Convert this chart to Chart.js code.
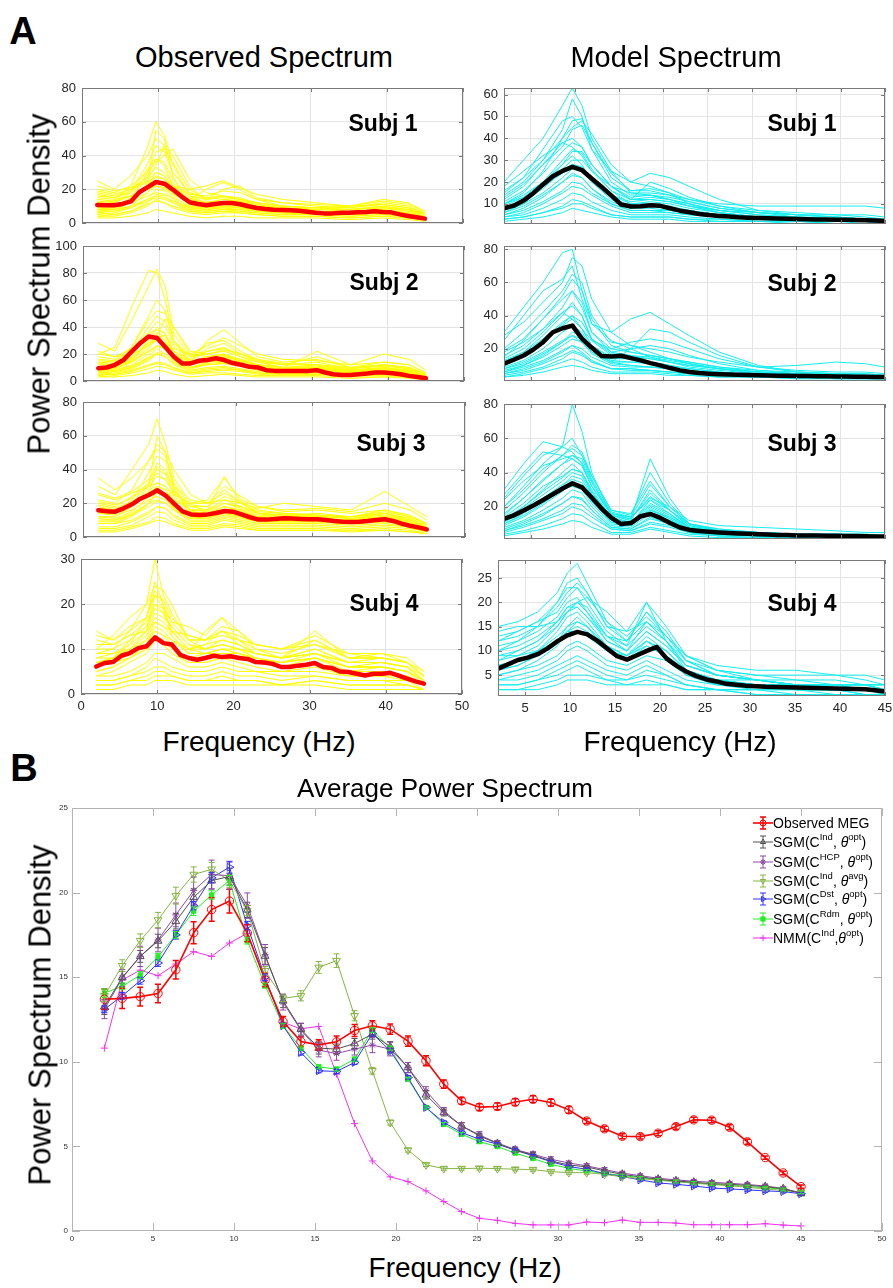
<!DOCTYPE html>
<html><head><meta charset="utf-8">
<script src="https://cdn.jsdelivr.net/npm/chart.js@4/dist/chart.umd.min.js"></script>
<style>
html,body{margin:0;padding:0;background:#fff;}
#page{position:relative;width:893px;height:1288px;overflow:hidden;font-family:"Liberation Sans",Arial,Helvetica,sans-serif;color:#000;background:#fff;}
#page canvas{position:absolute;}
.t{position:absolute;white-space:nowrap;line-height:1;transform:translate(-50%,-50%);}
.v{transform:translate(-50%,-50%) rotate(-90deg);}
.leg{position:absolute;white-space:nowrap;font-size:14px;line-height:1;transform:translateY(-50%);}
.leg sup{font-size:9.5px;line-height:0;position:relative;top:-1px;}
</style></head><body><div id="page"></div>
<script>
// ---------------- DATA ----------------
const FREQ = [2.00,3.10,4.21,5.31,6.41,7.51,8.62,9.72,10.82,11.92,13.03,14.13,15.23,16.33,17.44,18.54,19.64,20.74,21.85,22.95,24.05,25.15,26.26,27.36,28.46,29.56,30.67,31.77,32.87,33.97,35.08,36.18,37.28,38.38,39.49,40.59,41.69,42.79,43.90,45.00];
const THIN_F = [2,4.2,6.4,8.6,9.7,10.8,11.9,14.1,16.3,18.5,20.7,22.9,26.3,30.7,35.1,39.5,42.8,45];

const obsMean1 = [10.7,10.5,10.5,11.3,12.8,18.2,21.3,24.3,23.3,19.8,15.8,12.3,11.3,10.5,11.3,11.9,11.9,11.1,9.9,8.9,8.3,7.9,7.7,7.5,7.3,6.7,6.1,5.7,5.7,6.1,6.1,6.3,6.5,6.9,6.5,6.3,5.1,4.2,3.4,2.6];
const obsMean2 = [9.5,10,12,15.5,22,28,33,31.8,25,18,13,13,15,15.5,16.8,15.5,13.3,12,10.5,10,8,7.5,7.5,7.5,7.5,7.5,8,6.3,5,4.5,4.5,5,5.5,6.3,6.3,5.8,5,3.8,3,2];
const obsMean3 = [15.8,15.2,15,17,19.4,22.7,24.9,27.7,24.5,19.8,15.2,13.4,13,13.4,14.2,15.4,15,13.4,11.7,10.3,10.3,10.7,11.1,10.9,10.7,10.5,10.5,10.1,9.5,9.1,8.9,9.1,9.5,10.1,10.5,9.5,7.9,6.7,5.7,4.5];
const obsMean4 = [6.1,6.9,7.1,8.5,9.1,10.2,10.6,12.6,11.3,11.0,8.7,8.0,7.6,8.0,8.5,8.2,8.4,8.0,7.8,7.1,7.0,6.7,6.0,6.0,6.3,6.5,6.9,6.0,5.8,5.0,4.9,4.5,4.1,4.5,4.5,4.7,4.1,3.4,2.8,2.3];

const modMean1 = [8,9.2,11.5,14.9,18.9,22.6,25.1,26.9,25.4,21.5,17.7,13.8,9.7,8.8,8.9,9.4,9.1,8,6.9,6.2,5.4,4.9,4.5,4.2,3.9,3.7,3.5,3.4,3.3,3.2,3.1,3.0,2.9,2.85,2.8,2.7,2.6,2.5,2.4,2.2];
const modMean2 = [11,13.4,16,19.6,24,30,32.4,34,26,20.6,15.6,15.4,15.8,14.4,13,11.4,10,8.4,7,6,5.4,5.0,4.7,4.5,4.3,4.15,4.0,3.9,3.8,3.7,3.6,3.55,3.5,3.4,3.35,3.3,3.2,3.1,3.05,3.0];
const modMean3 = [12.9,15,17.8,20.8,24,27.3,30.7,33.7,31.3,25.3,18.8,13.5,9.9,10.5,14.5,15.8,13.5,10.5,7.9,6.5,5.9,5.4,5.0,4.7,4.4,4.2,4.0,3.8,3.6,3.5,3.3,3.25,3.2,3.1,3.05,2.95,2.9,2.8,2.7,2.6];
const modMean4 = [6.3,7.2,8.1,8.6,9.3,10.5,12,13.2,13.9,13.4,12.1,10.5,8.9,8.2,9.1,10,10.8,8.4,6.9,5.7,4.8,4.1,3.7,3.2,3.0,2.8,2.7,2.6,2.55,2.5,2.45,2.4,2.35,2.3,2.25,2.2,2.15,2.1,1.9,1.6];

const obsLines1 = [
 [14,13,22,45,60,52,35,16,12,14,13,10,9,8,8,9,7,5],
 [25,20,28,40,50,46,30,18,15,16,14,12,10,9,8,10,8,6],
 [8,9,15,30,42,44,36,20,14,20,22,15,12,10,9,12,10,6],
 [18,16,20,27,33,30,24,15,12,12,13,10,8,7,6,8,6,4],
 [6,7,10,18,24,22,16,9,8,9,8,7,6,5,5,6,5,3],
 [12,11,14,22,28,26,20,12,10,12,11,9,8,7,6,7,5,3],
 [4,4,6,10,14,12,9,6,5,6,6,5,4,4,3,4,3,2],
 [10,12,18,32,38,34,22,14,20,24,20,14,10,9,10,14,12,7],
 [20,18,22,30,36,40,44,26,18,16,14,11,9,8,8,9,7,5],
 [3,3,4,6,8,7,6,4,3,4,4,3,3,3,2,3,2,1],
 [15,14,16,20,22,20,17,12,11,12,12,10,9,8,7,8,6,4],
 [9,8,12,24,55,50,28,10,8,10,9,7,6,5,5,6,5,3],
 [7,8,12,16,18,17,15,10,9,10,9,8,7,6,6,7,6,4],
 [22,19,21,25,30,28,22,20,22,25,21,17,14,12,10,11,9,6],
 [5,6,9,14,20,19,14,8,7,8,7,6,5,5,4,5,4,2],
 [11,10,13,18,22,21,18,11,9,10,10,8,7,6,6,6,5,3],
 [16,15,18,28,38,36,26,16,14,15,14,12,10,9,9,11,9,5],
 [8,8,10,14,16,15,13,9,8,9,9,8,7,7,6,7,5,3],
 [13,12,16,26,34,46,40,22,13,12,11,9,8,7,6,7,6,4],
 [6,5,7,11,13,12,10,7,6,7,7,6,5,5,4,5,4,2],
 [19,17,20,24,27,26,22,17,16,19,18,14,12,11,10,13,11,7],
 [9,9,13,22,30,28,21,12,10,11,10,8,7,6,5,6,5,3],
 [4,5,7,12,17,16,12,7,6,7,6,5,4,4,3,4,3,2],
 [12,13,16,21,25,24,20,14,12,14,13,11,9,8,8,10,8,5],
 [7,7,9,13,15,14,12,8,7,8,8,7,6,6,5,6,5,3],
 [17,15,19,35,46,42,30,18,14,16,15,12,10,9,8,9,8,5]
];
const obsLines2 = [
 [20,25,55,82,80,60,30,15,22,25,18,12,10,12,8,10,8,4],
 [28,22,45,70,83,70,35,18,28,30,22,16,12,18,10,12,10,5],
 [10,12,25,48,60,52,30,14,18,20,14,10,9,10,7,8,6,3],
 [8,9,15,30,40,35,20,10,14,15,12,9,8,8,6,7,6,3],
 [15,14,20,35,38,35,22,16,24,28,20,14,10,11,8,10,8,4],
 [5,6,9,15,20,18,12,7,9,10,8,6,5,5,4,5,4,2],
 [12,12,18,28,30,28,20,14,30,38,28,18,14,16,10,14,12,6],
 [3,3,4,6,8,7,5,3,4,5,4,3,3,3,2,3,2,1],
 [18,16,25,45,52,50,40,22,20,22,18,14,12,14,9,12,9,5],
 [6,7,10,18,24,20,14,9,12,13,11,8,7,7,5,6,5,2],
 [10,9,14,22,26,24,18,12,16,18,15,12,10,22,12,20,16,8],
 [22,18,20,26,30,28,24,20,26,32,26,20,16,15,12,14,12,6],
 [4,5,8,12,14,13,10,6,8,9,8,6,5,6,4,5,4,2],
 [7,8,12,20,26,24,16,10,13,14,12,9,8,8,6,7,6,3],
 [13,12,17,30,36,32,22,14,18,20,16,12,10,10,8,9,7,4],
 [9,10,14,24,32,34,26,14,15,17,14,11,9,9,7,8,7,3],
 [5,5,7,11,13,12,9,6,7,8,7,5,5,5,4,4,3,2],
 [16,15,22,40,48,44,30,18,22,24,20,15,12,12,9,11,9,5],
 [11,11,15,22,26,24,18,12,16,18,15,12,10,10,8,9,8,4],
 [6,7,10,16,20,18,13,8,10,11,9,7,6,6,5,6,5,2],
 [20,18,24,36,44,40,28,18,20,23,20,16,13,12,10,12,10,5],
 [8,8,11,17,21,20,15,10,12,13,11,9,8,9,6,7,6,3],
 [14,13,18,28,34,46,40,20,18,19,16,12,10,10,8,9,7,4],
 [3,4,6,9,11,10,8,5,6,6,5,4,4,4,3,3,3,1],
 [10,11,16,26,34,30,20,12,15,16,13,10,9,9,7,8,7,3]
];
const obsLines3 = [
 [30,25,40,55,70,55,35,20,22,35,22,18,15,16,14,16,12,8],
 [35,28,35,45,55,50,40,25,20,30,24,18,16,17,15,20,16,10],
 [15,14,22,38,48,45,30,15,14,18,16,12,12,13,11,14,10,6],
 [20,18,24,32,38,34,26,18,18,28,20,14,13,12,11,12,9,5],
 [8,8,12,20,28,24,16,9,9,12,10,8,8,8,7,8,6,3],
 [25,22,26,30,32,30,25,20,20,22,20,17,20,18,16,27,18,12],
 [5,5,7,12,15,14,10,6,6,8,7,5,5,5,4,5,4,2],
 [12,12,18,30,60,50,30,12,11,15,12,9,9,9,8,10,7,4],
 [18,16,20,25,28,26,22,16,16,36,20,14,12,11,10,12,10,6],
 [10,10,14,20,22,20,16,11,12,14,12,10,10,11,9,11,8,4],
 [3,3,5,8,10,9,7,4,4,6,5,4,4,4,3,4,3,2],
 [22,20,28,45,52,48,32,18,16,20,18,14,13,12,12,14,11,7],
 [14,13,16,22,24,22,18,14,14,18,15,12,11,11,10,12,9,5],
 [9,9,13,20,26,24,17,10,10,13,11,9,9,9,8,9,7,4],
 [17,16,20,27,32,30,24,16,15,20,17,13,12,12,11,13,10,6],
 [12,11,15,24,30,28,20,12,12,16,13,10,10,10,9,11,8,5],
 [6,6,9,14,18,17,12,7,7,10,8,6,6,6,5,6,5,3],
 [21,19,23,30,36,34,27,19,18,24,20,15,14,13,12,14,11,7],
 [14,14,18,26,42,38,24,14,13,16,14,11,11,11,10,12,9,5],
 [8,8,10,15,18,17,13,8,8,11,9,7,7,7,6,7,6,3],
 [26,23,27,34,40,37,30,22,20,26,21,16,14,13,12,15,12,8],
 [11,10,13,18,21,20,16,11,11,14,12,9,9,9,8,9,7,4],
 [4,4,6,9,12,11,8,5,5,7,6,4,4,4,4,4,3,2],
 [16,15,20,32,44,40,28,15,14,18,16,12,11,11,10,12,9,5],
 [19,17,21,26,30,28,22,16,16,22,18,14,13,14,12,16,13,8]
];
const obsLines4 = [
 [10,13,17,20,30,22,18,12,12,15,14,10,8,14,8,9,7,4],
 [14,12,15,17,23,20,16,15,13,17,14,11,10,11,9,9,8,5],
 [6,8,12,15,20,18,14,10,11,12,11,9,8,10,7,7,6,3],
 [4,5,7,9,12,11,9,7,7,8,7,6,5,6,4,4,4,2],
 [8,9,10,12,14,13,12,10,10,11,10,9,8,9,7,7,6,4],
 [2,2,3,4,5,5,4,3,3,4,3,3,2,3,2,2,2,1],
 [7,8,11,17,25,20,13,9,14,17,12,9,8,12,8,8,7,4],
 [5,6,8,10,13,12,10,8,9,9,9,8,7,8,6,6,5,2],
 [12,11,13,14,16,15,14,13,12,13,12,11,10,13,9,8,7,5],
 [3,3,4,6,8,7,6,5,5,6,5,5,4,4,3,3,3,1],
 [9,10,14,20,24,23,20,12,10,11,10,8,7,8,6,6,5,3],
 [1,1,2,2,3,3,3,2,2,2,2,2,2,2,1,1,1,1],
 [6,7,9,11,15,14,12,9,9,10,10,8,7,8,6,7,6,3],
 [5,6,8,10,12,11,9,7,7,8,8,7,6,7,5,5,4,2],
 [7,7,9,12,16,15,13,9,9,10,9,8,7,9,6,6,5,3],
 [9,9,11,14,18,17,15,11,10,12,11,9,8,9,7,7,6,3],
 [4,4,5,7,9,9,8,6,6,7,6,5,5,5,4,4,3,2],
 [11,11,13,16,20,19,16,12,12,14,12,10,9,11,8,8,7,4],
 [6,7,8,11,14,13,11,8,8,9,9,7,6,8,5,6,5,3],
 [8,8,10,13,17,16,14,10,11,14,11,9,8,10,7,7,6,3],
 [3,3,4,5,6,6,5,4,4,5,4,4,3,4,3,3,2,1],
 [13,12,14,17,22,21,17,13,12,14,13,11,10,12,8,8,7,4],
 [10,10,12,15,19,18,15,11,10,11,10,9,8,9,7,8,7,4],
 [2,2,3,3,4,4,4,3,3,3,3,3,2,3,2,2,2,1],
 [7,8,10,14,22,19,14,10,9,10,9,8,7,8,6,6,5,3]
];
const modLines1 = [
 [20,30,40,55,63,55,40,25,20,18,15,10,6,4,3,3,3,2],
 [15,22,35,48,50,45,35,25,15,14,12,9,6,4,3,3,2,2],
 [10,15,25,40,45,48,42,28,20,24,22,18,12,7,5,4,3,3],
 [8,12,20,30,35,33,26,16,10,10,9,7,5,4,3,2,2,2],
 [5,8,13,20,24,22,17,10,7,7,6,5,4,3,2,2,2,1],
 [3,4,6,9,12,11,9,5,4,4,4,3,2,2,2,1,1,1],
 [12,18,28,38,40,36,28,18,12,13,12,10,7,5,4,4,3,2],
 [6,10,18,28,32,28,20,12,8,8,7,6,4,3,2,2,2,1],
 [18,25,32,38,36,32,25,18,15,15,14,12,10,9,9,9,9,8],
 [2,3,4,6,8,7,6,4,3,3,3,2,2,2,1,1,1,1],
 [10,14,20,26,30,30,25,16,12,20,17,13,9,6,4,3,3,2],
 [4,6,10,15,18,17,14,9,6,6,6,5,4,3,3,2,2,1],
 [14,20,30,44,58,50,35,20,14,14,12,10,7,5,4,3,3,2],
 [7,10,15,22,26,25,20,13,9,9,8,7,5,4,3,2,2,1],
 [9,13,20,28,34,34,28,18,12,12,11,9,6,4,3,3,2,2],
 [5,7,11,16,20,19,15,10,7,7,7,6,4,3,2,2,2,1],
 [11,16,24,34,38,36,28,18,13,14,13,11,8,6,5,4,3,2],
 [4,5,8,12,15,14,11,7,5,5,5,4,3,2,2,2,1,1],
 [13,19,28,36,44,46,38,24,16,16,14,11,8,6,5,4,3,3],
 [6,9,14,20,23,22,17,11,8,9,8,7,5,4,3,3,2,2],
 [16,22,30,40,48,49,38,22,16,17,15,12,9,7,6,5,4,3],
 [3,4,6,8,10,10,8,5,4,4,4,3,3,2,2,1,1,1],
 [8,11,17,25,28,27,22,14,10,11,10,8,6,4,3,3,2,2],
 [10,13,18,24,28,26,21,14,11,12,11,9,7,6,5,5,5,4]
];
const modLines2 = [
 [30,45,60,78,80,55,35,25,20,15,12,9,7,5,4,4,4,3],
 [25,40,55,62,70,50,35,30,38,42,35,28,18,10,6,5,5,4],
 [15,25,38,50,55,45,30,20,18,16,14,12,9,6,5,4,4,3],
 [10,15,25,35,40,32,22,15,14,12,10,8,6,4,3,3,3,3],
 [5,8,12,18,22,18,13,8,8,7,6,5,4,3,3,2,2,2],
 [20,30,42,55,65,60,40,24,22,20,18,15,12,9,10,12,11,9],
 [8,12,18,25,28,24,18,12,20,32,30,24,16,9,6,5,4,3],
 [3,4,6,9,10,9,7,5,5,5,4,4,3,3,2,2,2,2],
 [12,18,28,40,48,40,25,16,15,14,12,10,8,6,5,4,4,3],
 [6,10,16,24,30,28,20,12,10,9,8,7,5,4,3,3,3,2],
 [18,24,32,42,38,32,25,20,24,26,24,20,14,9,7,6,6,5],
 [4,6,9,14,18,16,12,8,7,7,6,5,4,3,3,2,2,2],
 [28,36,48,60,75,70,50,30,22,18,14,11,8,6,5,4,4,3],
 [9,13,20,30,34,30,20,13,12,11,9,8,6,4,3,3,3,2],
 [7,10,15,22,26,24,17,11,10,9,8,6,5,4,3,3,2,2],
 [14,20,30,42,46,40,26,17,16,15,13,11,8,6,4,4,3,3],
 [11,16,24,34,38,32,22,14,14,16,14,11,8,5,4,4,3,3],
 [5,7,11,16,19,17,12,8,8,7,6,5,4,3,3,2,2,2],
 [16,22,32,45,55,48,30,18,16,14,12,10,8,6,5,4,4,3],
 [8,11,17,24,28,26,18,12,12,12,10,8,6,4,4,3,3,2],
 [13,18,26,36,40,36,26,18,20,22,20,16,11,7,5,5,4,3],
 [3,5,8,12,14,12,9,6,6,6,5,4,3,3,2,2,2,2],
 [19,26,38,52,62,55,38,22,18,16,14,12,9,7,6,5,5,4],
 [6,9,13,19,22,20,15,10,9,9,8,6,5,4,3,3,3,2]
];
const modLines3 = [
 [30,45,58,55,60,50,38,18,15,40,22,10,6,4,4,3,3,3],
 [25,38,50,55,80,64,40,15,12,30,18,8,5,4,3,3,3,2],
 [15,25,35,45,50,48,35,15,12,48,25,10,6,4,3,3,3,3],
 [10,16,24,32,38,36,26,12,10,20,14,7,5,4,3,3,2,2],
 [6,10,15,22,26,24,18,8,7,14,10,5,4,3,2,2,2,2],
 [20,32,45,55,52,45,32,16,14,25,20,12,9,8,7,6,5,5],
 [3,5,7,10,12,11,8,4,4,7,5,3,2,2,2,1,1,1],
 [12,20,30,40,45,40,28,14,11,22,16,8,5,4,3,3,3,2],
 [8,12,18,25,30,28,20,9,8,16,12,6,4,3,3,2,2,2],
 [18,28,40,50,56,52,38,18,16,35,20,10,7,5,4,4,3,3],
 [5,8,12,16,20,18,14,7,6,10,8,5,3,3,2,2,2,2],
 [14,22,32,38,42,40,30,14,10,18,14,8,6,5,4,3,3,3],
 [24,35,44,48,50,46,34,16,13,26,18,9,6,5,4,4,4,3],
 [9,14,21,29,34,32,23,11,9,17,12,6,4,3,3,2,2,2],
 [13,20,29,37,42,40,29,13,11,21,15,8,5,4,3,3,3,2],
 [7,11,16,22,26,25,18,8,7,13,10,5,4,3,2,2,2,2],
 [16,25,36,45,48,44,32,15,13,28,18,9,6,5,4,3,3,3],
 [11,17,25,33,36,34,25,11,9,18,13,7,5,4,3,3,2,2],
 [4,6,9,13,16,15,11,5,5,8,6,4,3,2,2,2,1,1],
 [20,30,42,50,54,50,36,17,14,33,20,10,6,5,4,4,3,3],
 [10,15,22,30,32,30,22,10,9,19,13,6,4,3,3,3,2,2],
 [6,9,13,18,22,21,16,7,6,11,9,5,3,3,2,2,2,2],
 [27,40,52,50,48,44,32,16,14,24,18,10,7,5,4,4,4,3],
 [13,19,27,35,40,38,27,12,10,24,16,8,5,4,3,3,3,2]
];
const modLines4 = [
 [15,16,18,22,26,28,24,16,12,18,14,8,5,4,3,3,3,3],
 [12,14,16,20,23,23,20,14,11,20,12,7,5,4,3,3,2,2],
 [8,10,12,16,19,20,18,12,10,16,12,6,4,3,3,2,2,2],
 [6,7,9,12,14,15,14,10,8,12,9,5,3,3,2,2,2,1],
 [4,5,6,8,10,11,10,7,6,8,6,4,3,2,2,2,1,1],
 [2,2,3,4,5,5,5,4,3,4,3,2,2,1,1,1,1,1],
 [10,12,15,20,24,25,22,15,14,20,15,9,6,5,5,5,4,3],
 [14,15,15,16,18,20,21,18,14,16,13,9,7,6,6,5,5,4],
 [5,6,8,11,14,16,15,11,9,13,10,6,4,3,2,2,2,2],
 [9,10,12,15,18,19,17,12,10,14,11,7,5,4,3,3,3,2],
 [3,3,4,6,7,8,7,5,4,6,5,3,2,2,2,1,1,1],
 [7,8,10,14,17,18,16,11,9,12,10,6,4,3,3,2,2,2],
 [7,8,10,13,15,16,15,11,9,12,10,6,4,3,3,2,2,2],
 [11,12,14,17,20,21,18,13,11,15,12,8,5,4,3,3,3,2],
 [5,6,7,9,11,12,11,8,7,9,8,5,3,3,2,2,2,1],
 [8,9,11,15,18,20,19,13,10,14,11,7,5,4,3,3,2,2],
 [13,14,16,18,21,23,21,16,13,17,13,9,6,5,4,4,3,3],
 [4,4,5,7,8,9,8,6,5,7,5,3,2,2,2,2,1,1],
 [6,7,9,12,15,17,15,10,8,11,9,5,4,3,2,2,2,2],
 [10,11,13,16,19,19,17,13,12,18,13,8,6,4,4,3,3,3],
 [3,3,4,5,6,7,6,4,4,5,4,3,2,2,1,1,1,1],
 [12,13,15,19,22,24,22,15,12,16,12,7,5,4,3,3,3,2],
 [9,9,10,12,14,14,13,10,9,11,9,6,4,4,3,3,3,2],
 [2,2,2,3,4,4,4,3,3,3,3,2,2,1,1,1,1,1]
];

// Panel B series
const obsMEG = [13.7,13.75,13.85,14.04,15.44,17.63,19.0,19.5,17.6,14.83,12.38,11.2,11.0,11.18,11.85,12.13,11.93,11.22,10.06,8.68,7.69,7.32,7.36,7.62,7.79,7.59,7.16,6.5,6.04,5.6,5.58,5.78,6.17,6.57,6.55,6.13,5.27,4.34,3.43,2.62];
const sgmInd = [13.25,14.99,16.23,17.14,18.3,19.72,20.71,20.95,18.98,16.25,13.6,11.93,10.81,10.75,11.08,11.64,10.89,9.66,8.05,7.0,6.21,5.62,5.17,4.79,4.48,4.14,3.9,3.79,3.55,3.35,3.2,3.06,2.96,2.88,2.8,2.76,2.7,2.62,2.5,2.21];
const sgmHCP = [13.1,14.95,16.23,17.2,18.68,20.12,21.07,21.0,19.23,16.33,13.51,11.87,10.69,10.49,10.75,10.99,10.75,9.66,8.28,7.1,6.21,5.68,5.2,4.81,4.54,4.24,4.02,3.85,3.63,3.42,3.27,3.12,3.02,2.94,2.88,2.82,2.75,2.66,2.52,2.25];
const sgmAvg = [13.9,15.68,17.16,18.38,19.82,21.07,21.38,20.71,18.93,15.38,13.75,13.9,15.58,15.98,12.72,9.47,6.41,4.78,3.91,3.69,3.69,3.71,3.69,3.65,3.63,3.51,3.45,3.45,3.35,3.2,3.1,3.0,2.92,2.82,2.76,2.68,2.58,2.49,2.39,2.29];
const sgmDst = [13.1,13.9,14.79,15.84,17.5,19.23,20.87,21.5,18.05,14.99,12.13,10.55,9.47,9.43,9.96,11.67,10.65,9.07,7.3,6.41,5.82,5.42,5.13,4.78,4.44,4.1,3.81,3.65,3.39,3.22,3.02,2.84,2.76,2.66,2.54,2.49,2.43,2.37,2.33,2.2];
const sgmRdm = [14.06,14.46,15.13,16.21,17.5,18.9,19.86,20.71,17.16,14.5,12.13,10.81,9.7,9.57,10.16,11.89,10.81,8.98,7.3,6.31,5.72,5.28,4.99,4.6,4.28,3.94,3.7,3.55,3.4,3.28,3.15,3.02,2.92,2.84,2.76,2.7,2.63,2.56,2.46,2.28];
const nmmInd = [10.81,14.83,15.42,15.09,15.78,16.51,16.23,17.02,17.59,14.9,12.33,11.95,12.09,9.27,6.35,4.14,3.2,2.92,2.37,1.74,1.15,0.75,0.63,0.45,0.36,0.36,0.36,0.53,0.49,0.65,0.51,0.51,0.47,0.37,0.37,0.37,0.37,0.43,0.35,0.3];

const errObs = [0.6,0.6,0.55,0.55,0.55,0.65,0.7,0.7,0.5,0.4,0.3,0.3,0.3,0.35,0.35,0.3,0.3,0.3,0.3,0.25,0.2,0.2,0.2,0.2,0.2,0.2,0.2,0.15,0.15,0.15,0.15,0.15,0.15,0.15,0.15,0.15,0.15,0.1,0.1,0.1];
const errInd = [0.45,0.35,0.35,0.4,0.45,0.5,0.5,0.5,0.45,0.5,0.4,0.35,0.35,0.3,0.3,0.3,0.3,0.3,0.25,0.2,0.2,0.15,0.15,0.15,0.15,0.12,0.12,0.1,0.1,0.1,0.1,0.1,0.1,0.1,0.1,0.1,0.1,0.1,0.1,0.1];
const errHCP = [0.55,0.5,0.6,0.7,0.7,0.8,0.85,0.8,0.75,0.6,0.45,0.4,0.4,0.4,0.35,0.45,0.4,0.3,0.25,0.2,0.2,0.2,0.15,0.15,0.15,0.15,0.12,0.12,0.12,0.1,0.1,0.1,0.1,0.1,0.1,0.1,0.1,0.1,0.1,0.1];
const errAvg = [0.35,0.35,0.4,0.45,0.5,0.45,0.4,0.4,0.3,0.25,0.2,0.3,0.35,0.4,0.3,0.2,0.15,0.12,0.1,0.1,0.1,0.1,0.1,0.1,0.1,0.1,0.1,0.1,0.1,0.1,0.1,0.1,0.1,0.1,0.1,0.1,0.1,0.08,0.08,0.08];
const errDst = [0.2,0.2,0.2,0.2,0.25,0.25,0.3,0.35,0.25,0.2,0.15,0.15,0.12,0.12,0.12,0.15,0.12,0.12,0.1,0.1,0.1,0.1,0.1,0.08,0.08,0.08,0.08,0.08,0.08,0.08,0.08,0.08,0.08,0.08,0.08,0.08,0.08,0.08,0.08,0.08];
const errRdm = [0.25,0.2,0.2,0.2,0.2,0.25,0.25,0.3,0.2,0.15,0.15,0.12,0.12,0.12,0.12,0.15,0.12,0.1,0.1,0.1,0.1,0.1,0.08,0.08,0.08,0.08,0.08,0.08,0.08,0.08,0.08,0.08,0.08,0.08,0.08,0.08,0.08,0.08,0.08,0.08];

const ticksObsX = [0,10,20,30,40,50];
const ticksModX = [5,10,15,20,25,30,35,40,45];
const ticksBX = [0,5,10,15,20,25,30,35,40,45,50];
const ticksBY = [0,5,10,15,20,25];
const subjLabels = ['Subj 1','Subj 2','Subj 3','Subj 4'];
const legendLabels = [
 'Observed MEG',
 'SGM(C<sup>Ind</sup>, <i>θ</i><sup>opt</sup>)',
 'SGM(C<sup>HCP</sup>, <i>θ</i><sup>opt</sup>)',
 'SGM(C<sup>Ind</sup>, <i>θ</i><sup>avg</sup>)',
 'SGM(C<sup>Dst</sup>, <i>θ</i><sup>opt</sup>)',
 'SGM(C<sup>Rdm</sup>, <i>θ</i><sup>opt</sup>)',
 'NMM(C<sup>Ind</sup>,<i>θ</i><sup>opt</sup>)'
];

// ---------------- RENDERING ----------------
const FONT = "'Liberation Sans', Arial, Helvetica, sans-serif";
Chart.defaults.font.family = FONT;
const page = document.getElementById('page');

function addText(txt,x,y,size,weight,rot){
  const d=document.createElement('div'); d.className='t'+(rot?' v':''); d.textContent=txt;
  d.style.left=x+'px'; d.style.top=y+'px'; d.style.fontSize=size+'px'; if(weight) d.style.fontWeight=weight;
  page.appendChild(d); return d;
}

function drawMarker(ctx, style, x, y, r, rot, stroke, fill, lw){
  ctx.save(); ctx.translate(x,y); ctx.rotate((rot||0)*Math.PI/180);
  ctx.beginPath();
  if(style==='circle') ctx.arc(0,0,r,0,2*Math.PI);
  else if(style==='triangle'){ctx.moveTo(0,-r);ctx.lineTo(r*0.87,r*0.5);ctx.lineTo(-r*0.87,r*0.5);ctx.closePath();}
  else if(style==='rect'){ctx.rect(-r*0.7,-r*0.7,r*1.4,r*1.4);}
  else if(style==='cross'){ctx.moveTo(-r,0);ctx.lineTo(r,0);ctx.moveTo(0,-r);ctx.lineTo(0,r);}
  else if(style==='star'){ctx.moveTo(-r,0);ctx.lineTo(r,0);ctx.moveTo(0,-r);ctx.lineTo(0,r);const d=r*0.7;ctx.moveTo(-d,-d);ctx.lineTo(d,d);ctx.moveTo(-d,d);ctx.lineTo(d,-d);}
  if(fill){ctx.fillStyle=fill;ctx.fill();}
  ctx.lineWidth=lw||1; ctx.strokeStyle=stroke; ctx.stroke(); ctx.restore();
}

const framePlugin = {
  id:'frame',
  afterDraw(chart, args, o){
    const ctx=chart.ctx, a=chart.chartArea, xs=chart.scales.x, ys=chart.scales.y;
    ctx.save(); ctx.strokeStyle=o.color; ctx.lineWidth=1;
    ctx.strokeRect(Math.round(a.left)+0.5, Math.round(a.top)+0.5, Math.round(a.right-a.left)-1, Math.round(a.bottom-a.top)-1);
    const L=o.tick; ctx.beginPath();
    (o.xt||[]).forEach(v=>{const x=Math.round(xs.getPixelForValue(v))+0.5; ctx.moveTo(x,a.bottom);ctx.lineTo(x,a.bottom-L);ctx.moveTo(x,a.top);ctx.lineTo(x,a.top+L);});
    (o.yt||[]).forEach(v=>{const y=Math.round(ys.getPixelForValue(v))+0.5; ctx.moveTo(a.left,y);ctx.lineTo(a.left+L,y);ctx.moveTo(a.right,y);ctx.lineTo(a.right-L,y);});
    ctx.stroke(); ctx.restore();
  }
};

const errorPlugin = {
  id:'errbars',
  afterDatasetsDraw(chart){
    const ctx=chart.ctx, xs=chart.scales.x, ys=chart.scales.y;
    chart.data.datasets.forEach(ds=>{
      if(!ds.errs) return;
      ctx.save(); ctx.strokeStyle=ds.borderColor; ctx.lineWidth=ds.errWidth||1;
      ctx.beginPath();
      ds.data.forEach((p,i)=>{
        const e=ds.errs[i]; if(!e) return;
        const x=xs.getPixelForValue(p.x), y1=ys.getPixelForValue(p.y-e), y2=ys.getPixelForValue(p.y+e);
        ctx.moveTo(x,y1);ctx.lineTo(x,y2);
        ctx.moveTo(x-3,y1);ctx.lineTo(x+3,y1);ctx.moveTo(x-3,y2);ctx.lineTo(x+3,y2);
      });
      ctx.stroke(); ctx.restore();
    });
  }
};

function fixTicks(vals){ return s=>{ s.ticks = vals.map(v=>({value:v})); }; }

function makeChart(box, cfg, extraPlugins){
  const [l,t,r,b]=box, YW=cfg.yw, TP=10, RP=12, XH=cfg.xh;
  const cv=document.createElement('canvas');
  const W=YW+(r-l)+RP, H=TP+(b-t)+XH;
  cv.width=W; cv.height=H;
  cv.style.left=(l-YW)+'px'; cv.style.top=(t-TP)+'px';
  cv.style.width=W+'px'; cv.style.height=H+'px';
  page.appendChild(cv);
  return new Chart(cv.getContext('2d'),{
    type:'line',
    data:{datasets:cfg.datasets},
    plugins:[framePlugin, errorPlugin].concat(extraPlugins||[]),
    options:{
      responsive:false, animation:false, devicePixelRatio:1, events:[],
      layout:{padding:{top:TP,right:RP,left:0,bottom:0}},
      elements:{line:{tension:0}},
      plugins:{legend:{display:false},tooltip:{enabled:false},
        frame:{color:cfg.frameColor, tick:cfg.tickLen, xt:cfg.xt, yt:cfg.yt}},
      scales:{
        x:{type:'linear',min:cfg.xr[0],max:cfg.xr[1],
           afterBuildTicks:fixTicks(cfg.xt),
           afterFit:s=>{s.height=XH;s.paddingLeft=0;s.paddingRight=0;},
           grid:{display:cfg.grid,color:'#e4e4e4',drawTicks:false},
           border:{display:false},
           ticks:{display:cfg.showX,color:cfg.tickColor,font:{size:cfg.fs},padding:cfg.xpad,maxRotation:0,autoSkip:false}},
        y:{type:'linear',min:cfg.yr[0],max:cfg.yr[1],
           afterBuildTicks:fixTicks(cfg.yt),
           afterFit:s=>{s.width=YW;s.paddingTop=0;s.paddingBottom=0;},
           grid:{display:cfg.grid,color:'#e4e4e4',drawTicks:false},
           border:{display:false},
           ticks:{color:cfg.tickColor,font:{size:cfg.fs},padding:cfg.ypad,autoSkip:false}}
      }
    }
  });
}

function pts(xs, ys){ return xs.map((x,i)=>({x:x,y:ys[i]})); }

const panelsA = [
 {box:[82,88,463,223], xr:[0,50], xt:ticksObsX, yr:[0,80], yt:[0,20,40,60,80], showX:false, lines:obsLines1, mean:obsMean1, thin:'#ffff00', main:'#ff0000', lab:[383,123]},
 {box:[83,246,464,381], xr:[0,50], xt:ticksObsX, yr:[0,100], yt:[0,20,40,60,80,100], showX:false, lines:obsLines2, mean:obsMean2, thin:'#ffff00', main:'#ff0000', lab:[384,282]},
 {box:[83,402,465,537], xr:[0,50], xt:ticksObsX, yr:[0,80], yt:[0,20,40,60,80], showX:false, lines:obsLines3, mean:obsMean3, thin:'#ffff00', main:'#ff0000', lab:[391,443]},
 {box:[81,559,462,694], xr:[0,50], xt:ticksObsX, yr:[0,30], yt:[0,10,20,30], showX:true, lines:obsLines4, mean:obsMean4, thin:'#ffff00', main:'#ff0000', lab:[384,603]},
 {box:[504,88,885,224], xr:[2,45], xt:ticksModX, yr:[0.8,63], yt:[10,20,30,40,50,60], showX:false, lines:modLines1, mean:modMean1, thin:'#14eeee', main:'#000000', lab:[802,123]},
 {box:[504,246,885,381], xr:[2,45], xt:ticksModX, yr:[0.6,82], yt:[20,40,60,80], showX:false, lines:modLines2, mean:modMean2, thin:'#14eeee', main:'#000000', lab:[802,283]},
 {box:[504,404,885,539], xr:[2,45], xt:ticksModX, yr:[1.2,80], yt:[20,40,60,80], showX:false, lines:modLines3, mean:modMean3, thin:'#14eeee', main:'#000000', lab:[802,443]},
 {box:[498,560,885,696], xr:[2,45], xt:ticksModX, yr:[0.7,28.7], yt:[5,10,15,20,25], showX:true, lines:modLines4, mean:modMean4, thin:'#14eeee', main:'#000000', lab:[802,603]}
];

panelsA.forEach((p,k)=>{
  const ds=[{data:pts(FREQ,p.mean),borderColor:p.main,borderWidth:4.5,pointRadius:0,borderJoinStyle:'round',borderCapStyle:'round'}];
  p.lines.forEach(line=>ds.push({data:pts(THIN_F,line),borderColor:p.thin,borderWidth:1,pointRadius:0}));
  makeChart(p.box,{yw:45,xh:26,xr:p.xr,xt:p.xt,yr:p.yr,yt:p.yt,showX:p.showX,datasets:ds,grid:true,
    frameColor:'#7a7a7a',tickLen:4,tickColor:'#262626',fs:13,xpad:5,ypad:6});
  addText(subjLabels[k%4], p.lab[0], p.lab[1], 23, 'bold');
});

// Panel B
const bStyles = [
 {color:'#ff0000', w:1.6, pt:'circle', rot:0, r:4.2, fill:null, ew:1.5},
 {color:'#505050', w:1, pt:'triangle', rot:0, r:4.5, fill:null, ew:1},
 {color:'#8e48a6', w:1, pt:'star', rot:0, r:3.5, fill:null, ew:1},
 {color:'#86b444', w:1, pt:'triangle', rot:180, r:4.5, fill:null, ew:1},
 {color:'#3030ff', w:1, pt:'triangle', rot:90, r:4.5, fill:null, ew:1},
 {color:'#22ee22', w:1, pt:'rect', rot:0, r:3, fill:'#22ee22', ew:1},
 {color:'#ee33ee', w:1, pt:'cross', rot:0, r:3.5, fill:null, ew:1}
];
const bSeries = [obsMEG, sgmInd, sgmHCP, sgmAvg, sgmDst, sgmRdm, nmmInd];
const bErrs = [errObs, errInd, errHCP, errAvg, errDst, errRdm, null];

const bDatasets = bSeries.map((vals,i)=>{
  const s=bStyles[i];
  return {data:pts(FREQ,vals), borderColor:s.color, borderWidth:s.w, pointStyle:s.pt, pointRotation:s.rot,
    pointRadius:s.r, pointBorderColor:s.color, pointBackgroundColor:s.fill||'rgba(0,0,0,0)', pointBorderWidth:1,
    errs:bErrs[i], errWidth:s.ew};
});

const legendPlugin = {
  id:'legsamples',
  afterDraw(chart){
    const ctx=chart.ctx; const cx=711, x0=701, x1=721, ys=[25,44,64,83,101,121,140];
    bStyles.forEach((s,i)=>{
      const y=ys[i];
      ctx.save(); ctx.strokeStyle=s.color; ctx.lineWidth=s.w;
      ctx.beginPath(); ctx.moveTo(x0,y); ctx.lineTo(x1,y); ctx.stroke();
      if(i<6){ ctx.lineWidth=s.ew; ctx.beginPath(); ctx.moveTo(cx,y-6);ctx.lineTo(cx,y+6);ctx.moveTo(cx-3,y-6);ctx.lineTo(cx+3,y-6);ctx.moveTo(cx-3,y+6);ctx.lineTo(cx+3,y+6);ctx.stroke(); }
      ctx.restore();
      drawMarker(ctx, s.pt, cx, y, Math.min(s.r,3), s.rot, s.color, s.fill, 1);
    });
  }
};

makeChart([72,808,882,1231],{yw:20,xh:20,xr:[0,50],xt:ticksBX,yr:[0,25],yt:ticksBY,showX:true,datasets:bDatasets,grid:false,
    frameColor:'#b4b4b4',tickLen:8,tickColor:'#333',fs:8,xpad:3,ypad:4},[legendPlugin]);

legendLabels.forEach((h,i)=>{
  const d=document.createElement('div'); d.className='leg'; d.innerHTML=h;
  d.style.left='773px'; d.style.top=[823,842,862,881,899,919,938][i]+'px';
  page.appendChild(d);
});

addText('A',23,31,38,'bold');
addText('B',24,768,38,'bold');
addText('Observed Spectrum',264,57,29);
addText('Model Spectrum',676,57,29);
addText('Power Spectrum Density',39,284,31,null,true);
addText('Frequency (Hz)',259,742,28);
addText('Frequency (Hz)',680,742,28);
addText('Average Power Spectrum',445,788,26);
addText('Power Spectrum Density',40,1015,31,null,true);
addText('Frequency (Hz)',465,1268,28);
</script></body></html>
